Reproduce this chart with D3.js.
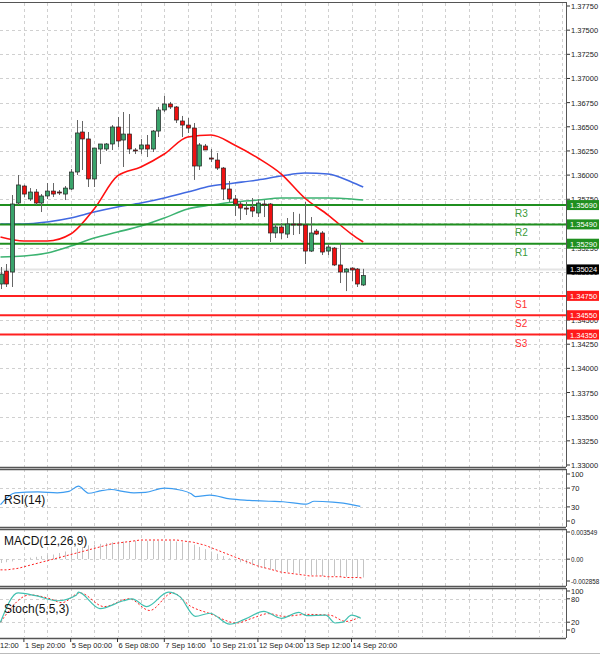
<!DOCTYPE html>
<html><head><meta charset="utf-8">
<script src="https://cdn.jsdelivr.net/npm/d3@7"></script>
<style>body{margin:0;background:#fff}svg{display:block;font-family:"Liberation Sans",Arial,sans-serif}</style>
</head><body><svg id="c" width="600" height="655"></svg>
<script>
// OHLC candles
const opens  = [1.34873,1.35007,1.34997,1.35711,1.35887,1.35753,1.35825,1.35711,1.35784,1.35835,1.35825,1.35804,1.35856,1.36032,1.36446,1.36374,1.35960,1.36270,1.36270,1.36322,1.36498,1.36363,1.36425,1.36260,1.36270,1.36312,1.36270,1.36456,1.36674,1.36736,1.36705,1.36560,1.36518,1.36487,1.36094,1.36301,1.36177,1.36156,1.36073,1.35856,1.35753,1.35701,1.35659,1.35670,1.35608,1.35701,1.35701,1.35401,1.35463,1.35390,1.35494,1.35494,1.35483,1.35214,1.35421,1.35401,1.35214,1.35245,1.35070,1.34997,1.35038,1.35028,1.34863];
const highs  = [1.35049,1.35080,1.35794,1.36001,1.35900,1.35866,1.35856,1.35804,1.35918,1.35918,1.35846,1.35887,1.36063,1.36570,1.36560,1.36446,1.36280,1.36322,1.36332,1.36518,1.36601,1.36653,1.36632,1.36280,1.36374,1.36415,1.36467,1.36705,1.36819,1.36757,1.36715,1.36612,1.36591,1.36539,1.36332,1.36322,1.36270,1.36229,1.36084,1.35939,1.35794,1.35722,1.35722,1.35763,1.35753,1.35742,1.35711,1.35494,1.35504,1.35556,1.35618,1.35600,1.35722,1.35566,1.35442,1.35421,1.35287,1.35256,1.35297,1.35038,1.35045,1.35038,1.35030];
const lows   = [1.34821,1.34842,1.34842,1.35690,1.35773,1.35732,1.35690,1.35618,1.35753,1.35773,1.35794,1.35742,1.35846,1.36001,1.36053,1.35877,1.35877,1.36115,1.36249,1.36260,1.36291,1.36084,1.36218,1.36218,1.36218,1.36187,1.36239,1.36394,1.36653,1.36684,1.36539,1.36394,1.36436,1.35950,1.36053,1.36260,1.36135,1.36053,1.35742,1.35722,1.35577,1.35535,1.35587,1.35566,1.35566,1.35566,1.35308,1.35349,1.35339,1.35349,1.35380,1.35390,1.35080,1.35204,1.35380,1.35173,1.35173,1.35059,1.34883,1.34800,1.34904,1.34842,1.34852];
const closes = [1.34976,1.34873,1.35701,1.35898,1.35804,1.35825,1.35711,1.35784,1.35835,1.35804,1.35815,1.35866,1.36032,1.36436,1.36374,1.35960,1.36280,1.36322,1.36322,1.36498,1.36353,1.36425,1.36270,1.36255,1.36312,1.36270,1.36456,1.36674,1.36736,1.36705,1.36570,1.36518,1.36487,1.36094,1.36312,1.36260,1.36166,1.36073,1.35856,1.35753,1.35701,1.35659,1.35655,1.35628,1.35711,1.35696,1.35401,1.35463,1.35401,1.35494,1.35490,1.35483,1.35214,1.35401,1.35390,1.35204,1.35256,1.35070,1.34997,1.35028,1.35018,1.34873,1.34960];
// moving averages, sampled at candle indices
const maIdx   = [1,5,9,13,17,21,25,29,33,37,41,45,49,53,57,61,63];
const maRed   = [1.35359,1.35318,1.35318,1.35390,1.35649,1.35991,1.36084,1.36218,1.36394,1.36415,1.36312,1.36177,1.36011,1.35763,1.35587,1.35390,1.35308];
const maBlue  = [1.35494,1.35494,1.35515,1.35556,1.35618,1.35670,1.35711,1.35763,1.35825,1.35887,1.35918,1.35950,1.35991,1.36022,1.36011,1.35929,1.35877];
const maGreen = [1.35152,1.35163,1.35194,1.35266,1.35349,1.35411,1.35473,1.35556,1.35649,1.35690,1.35722,1.35742,1.35763,1.35763,1.35763,1.35753,1.35742];
// levels
const levelNames = ["R3","R2","R1","S1","S2","S3"];
const levelVals  = [1.3569,1.3549,1.3529,1.3475,1.3455,1.3435];
const lastPrice = 1.35024;
const priceTicks = [1.3775,1.375,1.3725,1.37,1.3675,1.365,1.3625,1.36,1.3575,1.355,1.3525,1.35,1.3475,1.345,1.3425,1.34,1.3375,1.335,1.3325,1.33];
// RSI
const rsiIdx = [1,3.5,7.4,10.7,12.7,14.3,16.1,18,20,21.9,23.8,25.8,29,31.7,33.6,34.3,36.8,40.2,43.5,47,49.3,53.3,54.6,57.8,61,62.5];
const rsiVal = [35,60,62,60,63,74,59,64,67,63,60,61,70,66,58,52,55,47,44,42,41,36,42,40,35,31];
// MACD
const macdHist = [-0.0005,-0.0004,-0.0003,-0.0001,0.0001,0.0002,0.0003,0.0004,0.0005,0.0006,0.0008,0.0010,0.0012,0.0014,0.0016,0.0018,0.0019,0.0020,0.0021,0.0022,0.0022,0.0023,0.0023,0.0024,0.0024,0.0024,0.0024,0.0024,0.0024,0.0024,0.0023,0.0022,0.0022,0.0019,0.0016,0.0013,0.0010,0.0007,0.0004,0.0001,-0.0002,-0.0004,-0.0006,-0.0008,-0.0010,-0.0012,-0.0014,-0.0015,-0.0016,-0.0017,-0.0018,-0.0019,-0.0020,-0.0021,-0.0021,-0.0022,-0.0022,-0.0022,-0.0023,-0.0023,-0.0023,-0.0024,-0.0024];
const macdSignal = [-0.0014,-0.0014,-0.0013,-0.0012,-0.0010,-0.0008,-0.0006,-0.0004,-0.0002,0,0.0002,0.0004,0.0006,0.0008,0.0010,0.0012,0.0014,0.0016,0.0018,0.0020,0.0021,0.0022,0.0023,0.0024,0.0025,0.0025,0.0025,0.0025,0.0025,0.0025,0.0025,0.0024,0.0023,0.0022,0.0020,0.0018,0.0015,0.0012,0.0009,0.0006,0.0003,0,-0.0003,-0.0006,-0.0009,-0.0011,-0.0013,-0.0015,-0.0017,-0.0018,-0.0019,-0.0020,-0.0021,-0.0022,-0.0022,-0.0022,-0.0023,-0.0023,-0.0023,-0.0024,-0.0024,-0.0024,-0.0025];
// Stochastic
const stMainIdx = [1,4,7,10.7,14,14.3,18,22,23.5,26,29.7,31.7,34.3,36.8,40.2,42.8,46,49,52,53.3,56.6,58.2,59.5,61,62.6];
const stMainVal = [20,95,88,75,90,97,55,75,80,60,97,85,35,43,15,28,48,30,45,37,38,18,20,38,30];
const stSigIdx = [1,6,9.5,11.5,14.6,18.7,23,26.5,30.4,33.6,36.8,41.4,44,46.8,49.5,53.3,57.3,60,62.6];
const stSigVal = [20,90,80,70,95,60,80,50,95,60,42,18,30,42,35,40,38,22,35];
// time labels
const timeIdx = [-2.5,5,13,21,29,37,45,53,61];
const timeLbl = ["12:00","1 Sep 20:00","5 Sep 00:00","6 Sep 08:00","7 Sep 16:00","10 Sep 21:01","12 Sep 04:00","13 Sep 12:00","14 Sep 20:00"];

const svg = d3.select("#c");
const R = 566;
const x = d3.scaleLinear().domain([1,2]).range([0.5,6.35]);
const y = d3.scaleLinear().domain([1.33,1.3775]).range([465,6]);
const yR = d3.scaleLinear().domain([0,100]).range([521,474]);
const yM = d3.scaleLinear().domain([-0.002858,0.003549]).range([581,532]);
const yS = d3.scaleLinear().domain([0,100]).range([630,591]);
const grid = "#d0d0d0";

function hgrid(sc, vals){
  svg.append("g").selectAll("line").data(vals).join("line")
    .attr("x1",0).attr("x2",R).attr("y1",d=>Math.round(sc(d))+0.5).attr("y2",d=>Math.round(sc(d))+0.5)
    .attr("stroke",grid).attr("stroke-dasharray","3,3");
}
const vg = d3.range(5,100,4).map(i=>x(i)).filter(v=>v<R-3);
[[3,467],[469,527],[529,586],[588,637]].forEach(([t,b])=>{
  svg.append("g").selectAll("line").data(vg).join("line")
   .attr("x1",d=>Math.round(d)+0.5).attr("x2",d=>Math.round(d)+0.5).attr("y1",t).attr("y2",b)
   .attr("stroke",grid).attr("stroke-dasharray","3,3");
});
hgrid(y, priceTicks.slice(1,-1));
hgrid(yR,[70,30]); hgrid(yM,[0]); hgrid(yS,[80,20]);

function rlabels(sc, vals, fmt, fs){
  const g = svg.append("g");
  g.selectAll("line").data(vals).join("line").attr("x1",R).attr("x2",R+4)
    .attr("y1",d=>sc(d)).attr("y2",d=>sc(d)).attr("stroke","#333");
  g.selectAll("text").data(vals).join("text").attr("x",R+5).attr("y",d=>sc(d)+3)
    .attr("font-size",fs||7.5).attr("fill","#222").text(fmt);
}
rlabels(y, priceTicks, d=>d.toFixed(5));
rlabels(yR,[100,70,30,0],d=>d);
rlabels(yM,[0.003549,0,-0.002858],d=>d===0?"0.00":d.toFixed(6),6.3);
rlabels(yS,[100,80,20,0],d=>d);

svg.append("line").attr("x1",0).attr("x2",R).attr("y1",y(lastPrice)).attr("y2",y(lastPrice)).attr("stroke","#e4e4e4").attr("stroke-width",2);

const maLine = arr => d3.line().x((d,i)=>x(maIdx[i])).y(d=>y(d)).curve(d3.curveMonotoneX)(arr);
svg.append("path").attr("d",maLine(maGreen)).attr("fill","none").attr("stroke","#3cb371").attr("stroke-width",1.6);
svg.append("path").attr("d",maLine(maBlue)).attr("fill","none").attr("stroke","#4169e1").attr("stroke-width",1.6);
svg.append("path").attr("d",maLine(maRed)).attr("fill","none").attr("stroke","#ff1010").attr("stroke-width",1.6);

levelVals.forEach((v,k)=>{
  const res = levelNames[k][0]==="R";
  const col = res ? "#1f8f1f" : "#ff2020";
  svg.append("line").attr("x1",0).attr("x2",R).attr("y1",y(v)).attr("y2",y(v)).attr("stroke",col).attr("stroke-width",2);
  svg.append("text").attr("x",515).attr("y",y(v)+12).attr("font-size",10).attr("fill",res?"#3a9a3a":"#ff3030").text(levelNames[k]);
  svg.append("rect").attr("x",R+1).attr("y",y(v)-5).attr("width",32).attr("height",10).attr("fill",res?"#1f8f1f":"#ff1a1a");
  svg.append("text").attr("x",R+4).attr("y",y(v)+3).attr("font-size",7.5).attr("fill","#fff").text(v.toFixed(5));
});

const idx = d3.range(opens.length);
const cg = svg.append("g");
cg.selectAll("line").data(idx).join("line")
  .attr("x1",i=>Math.round(x(i+1))+0.5).attr("x2",i=>Math.round(x(i+1))+0.5)
  .attr("y1",i=>y(highs[i])).attr("y2",i=>y(lows[i])).attr("stroke","#666");
cg.selectAll("rect").data(idx).join("rect")
  .attr("x",i=>Math.round(x(i+1))-1.5).attr("width",4)
  .attr("y",i=>y(Math.max(opens[i],closes[i])))
  .attr("height",i=>Math.max(1,Math.abs(y(opens[i])-y(closes[i]))))
  .attr("fill",i=>closes[i]>=opens[i]?"#3aa36b":"#ee1111").attr("stroke","#222").attr("stroke-width",0.7);

svg.append("rect").attr("x",R+1).attr("y",y(lastPrice)-5).attr("width",32).attr("height",10).attr("fill","#000");
svg.append("text").attr("x",R+4).attr("y",y(lastPrice)+3).attr("font-size",7.5).attr("fill","#fff").text(lastPrice.toFixed(5));

svg.append("path").attr("d",d3.line().x((d,i)=>x(rsiIdx[i])).y(d=>yR(d)).curve(d3.curveMonotoneX)(rsiVal))
  .attr("fill","none").attr("stroke","#3d9cf0").attr("stroke-width",1.2);
svg.append("text").attr("x",4).attr("y",504).attr("font-size",12).attr("fill","#111").text("RSI(14)");

svg.append("g").selectAll("line").data(macdHist).join("line")
  .attr("x1",(d,i)=>Math.round(x(i+1))+0.5).attr("x2",(d,i)=>Math.round(x(i+1))+0.5)
  .attr("y1",yM(0)).attr("y2",d=>yM(d)).attr("stroke","#c4c4c4");
svg.append("path").attr("d",d3.line().x((d,i)=>x(i+1)).y(d=>yM(d)).curve(d3.curveMonotoneX)(macdSignal))
  .attr("fill","none").attr("stroke","#ff2020").attr("stroke-dasharray","2,2").attr("stroke-width",1);
svg.append("text").attr("x",4).attr("y",545).attr("font-size",12).attr("fill","#111").text("MACD(12,26,9)");

svg.append("path").attr("d",d3.line().x((d,i)=>x(stSigIdx[i])).y(d=>yS(d)).curve(d3.curveMonotoneX)(stSigVal))
  .attr("fill","none").attr("stroke","#ff2020").attr("stroke-dasharray","2,2").attr("stroke-width",1);
svg.append("path").attr("d",d3.line().x((d,i)=>x(stMainIdx[i])).y(d=>yS(d)).curve(d3.curveMonotoneX)(stMainVal))
  .attr("fill","none").attr("stroke","#40c0b0").attr("stroke-width",1.2);
svg.append("text").attr("x",4).attr("y",613).attr("font-size",12).attr("fill","#111").text("Stoch(5,5,3)");

[[2,467],[469,527],[529,586],[588,638]].forEach(([t,b])=>{
  svg.append("line").attr("x1",0).attr("x2",R).attr("y1",t+0.5).attr("y2",t+0.5).attr("stroke","#555").attr("stroke-width",t===2?1:1.5);
  svg.append("line").attr("x1",0).attr("x2",R).attr("y1",b+0.5).attr("y2",b+0.5).attr("stroke","#555").attr("stroke-width",1.5);
  svg.append("line").attr("x1",R+0.5).attr("x2",R+0.5).attr("y1",t).attr("y2",b).attr("stroke","#555").attr("stroke-width",1);
});

svg.append("g").selectAll("text").data(timeIdx).join("text")
  .attr("x",(d,i)=>i===0?0:x(d)+1).attr("y",648).attr("font-size",7.5).attr("fill","#222").text((d,i)=>timeLbl[i]);
svg.append("g").selectAll("line").data(timeIdx.slice(1)).join("line")
  .attr("x1",d=>x(d)).attr("x2",d=>x(d)).attr("y1",638).attr("y2",642).attr("stroke","#333");
svg.append("line").attr("x1",0).attr("x2",600).attr("y1",653.5).attr("y2",653.5).attr("stroke","#bbb");
</script></body></html>
